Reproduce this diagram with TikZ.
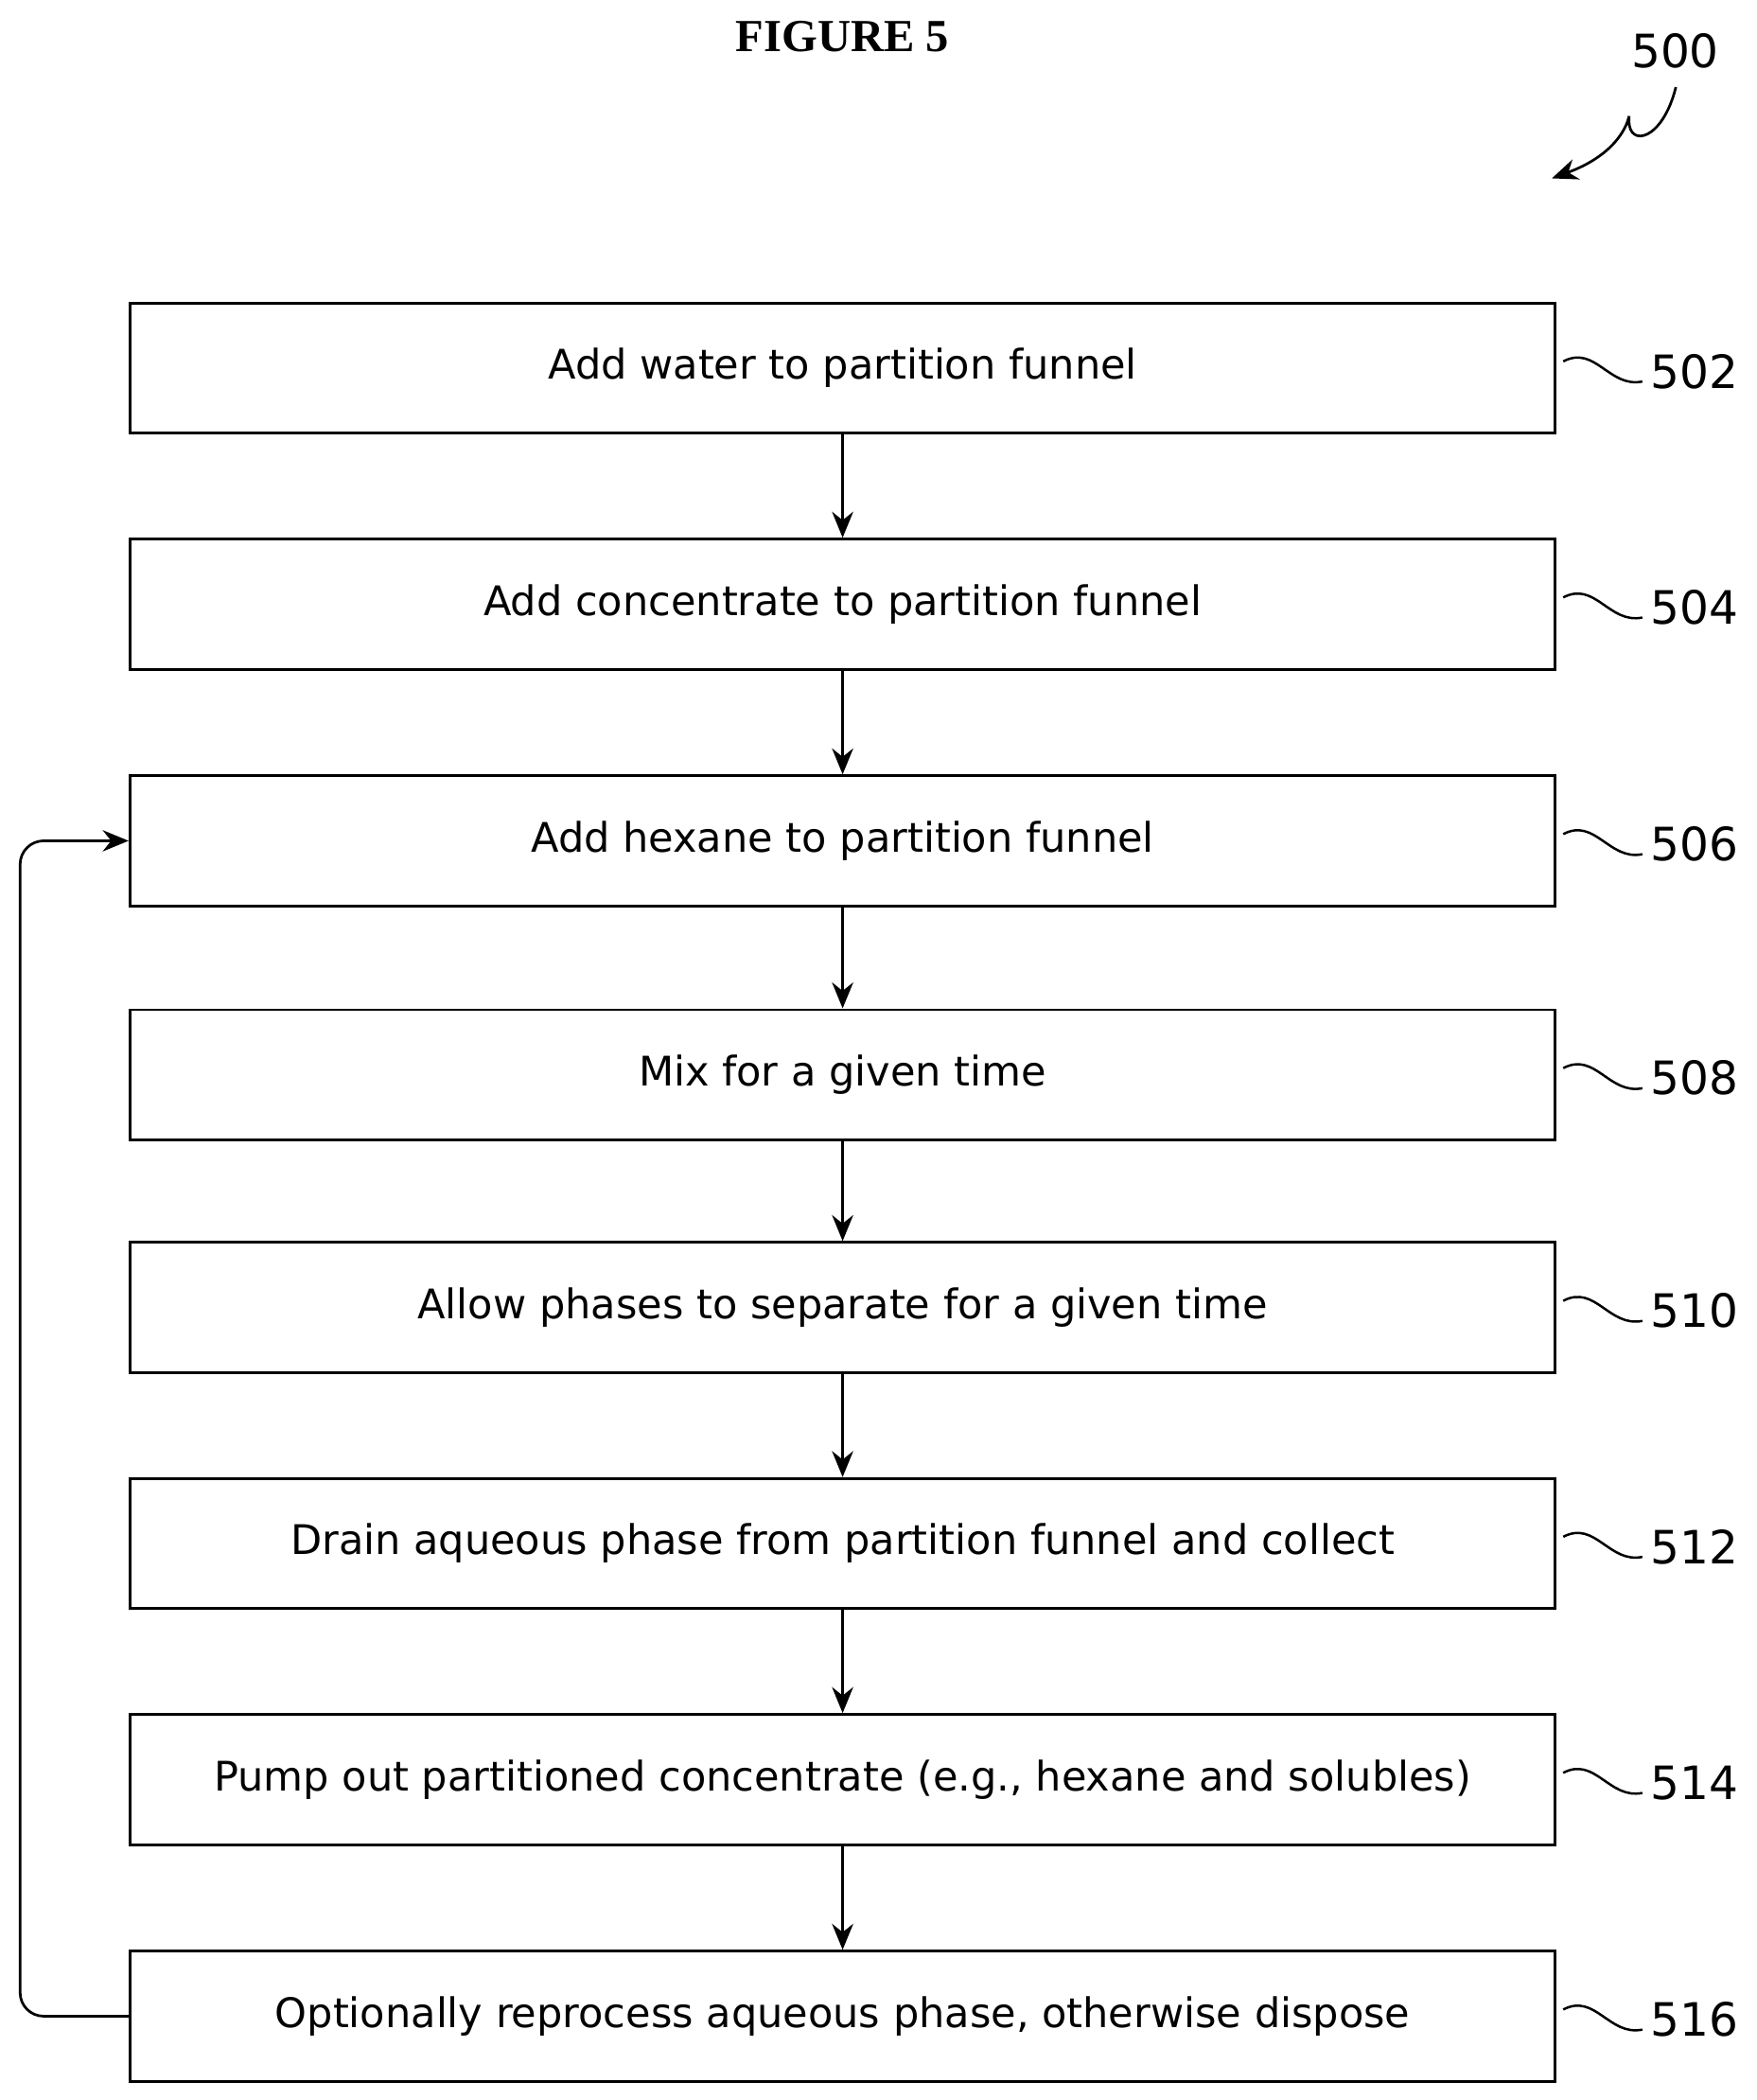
\documentclass[tikz,border=0pt]{standalone}
\usepackage{fontspec}
\setmainfont{DejaVu Sans}
\newfontfamily\serifb{Liberation Serif}
\usetikzlibrary{arrows.meta}
\begin{document}
\begin{tikzpicture}[
  box/.style={draw,line width=1.2pt,minimum width=21.26cm,minimum height=1.94cm,font=\fontsize{17.3}{20}\selectfont},
  arr/.style={-{Stealth[length=11pt,width=9pt]},line width=1.1pt},
  lab/.style={font=\fontsize{19.5}{22}\selectfont,anchor=west},
  sq/.style={line width=1pt}]
\useasboundingbox (0,0) rectangle (26.2,-31.32);
\node[font=\serifb\bfseries\fontsize{19.5}{22}\selectfont] (title) at (12.57,-0.54) {FIGURE 5};
\node[font=\fontsize{19.5}{22}\selectfont] (n500) at (24.99,-0.76) {500};
\coordinate (a500) at (23.15,-2.66);
\draw[arr] (25.0,-1.3) .. controls (24.8,-2.1) and (24.3,-2.2) .. (24.3,-1.8) .. controls (24.3,-1.5) and (24.4,-2.2) .. (a500);
\foreach \n/\y/\t in {502/-5.49/Add water to partition funnel,
 504/-9.01/Add concentrate to partition funnel,
 506/-12.54/Add hexane to partition funnel,
 508/-16.03/Mix for a given time,
 510/-19.50/Allow phases to separate for a given time,
 512/-23.02/Drain aqueous phase from partition funnel and collect,
 514/-26.54/Pump out partitioned concentrate (e.g.{,} hexane and solubles),
 516/-30.07/Optionally reprocess aqueous phase{,} otherwise dispose}{
  \node[box] (b\n) at (12.57,\y) {\t};
  \draw[sq] (23.32,\y+0.1) .. controls (23.8,\y+0.35) and (24.0,\y-0.3) .. (24.5,\y-0.2);
  \node[lab] (l\n) at (24.5,\y-0.05) {\n};
}
\foreach \a/\b in {502/504,504/506,506/508,508/510,510/512,512/514,514/516}
  \draw[arr] (b\a.south) -- (b\b.north);
\draw[arr,rounded corners=10pt] (b516.west) -- (0.3,-30.07) -- (0.3,-12.54) -- (b506.west);
\end{tikzpicture}
\end{document}
